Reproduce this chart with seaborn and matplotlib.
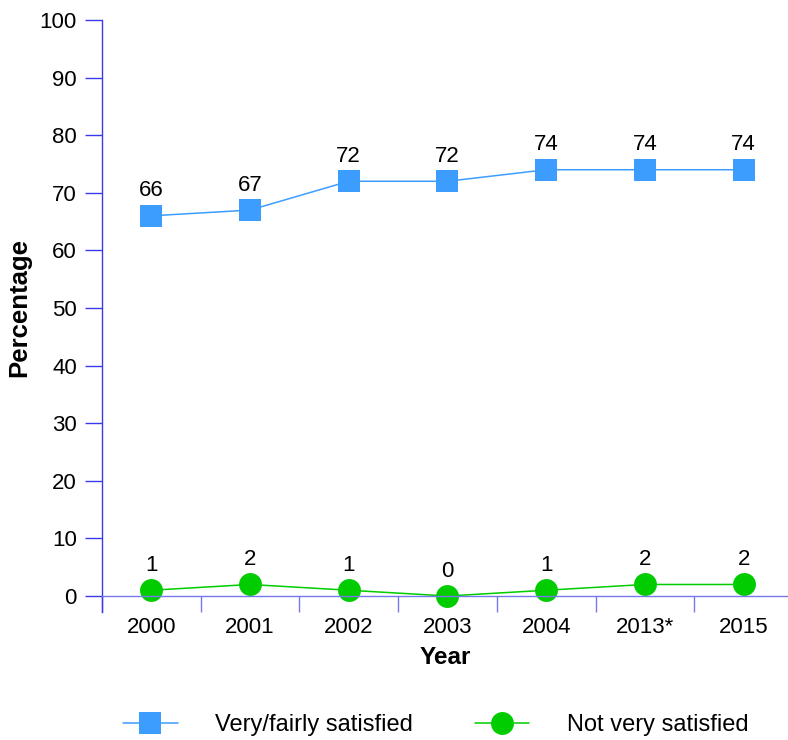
import matplotlib
matplotlib.use('Agg')
import matplotlib.pyplot as plt
import pandas as pd
import seaborn as sns
from matplotlib.lines import Line2D

years = ['2000', '2001', '2002', '2003', '2004', '2013*', '2015']
satisfied = [66, 67, 72, 72, 74, 74, 74]
not_satisfied = [1, 2, 1, 0, 1, 2, 2]

sns.set_style('white')
plt.rcParams['font.family'] = ['Liberation Sans', 'DejaVu Sans']
plt.rcParams['text.color'] = 'black'
plt.rcParams['axes.labelcolor'] = 'black'
plt.rcParams['xtick.color'] = 'black'
plt.rcParams['ytick.color'] = 'black'

blue = '#3d9dff'
green = '#00cc00'
axis_col = '#3a3ae6'
xaxis_col = '#7777ee'

df = pd.DataFrame({'pos': list(range(len(years))) * 2,
                   'value': satisfied + not_satisfied,
                   'series': ['Very/fairly satisfied'] * len(years) + ['Not very satisfied'] * len(years)})

fig = plt.figure(figsize=(7.88, 7.40), dpi=100)
ax = fig.add_axes([0.1294, 0.1946, 0.8706, 0.7784])

sns.lineplot(data=df, x='pos', y='value', hue='series', style='series',
             palette={'Very/fairly satisfied': blue, 'Not very satisfied': green},
             markers={'Very/fairly satisfied': 's', 'Not very satisfied': 'o'},
             dashes=False, linewidth=1.1, markersize=16.5, markeredgewidth=0,
             legend=False, ax=ax, clip_on=False)

# value labels above the markers
for i, v in enumerate(satisfied):
    ax.annotate(str(v), (i, v), xytext=(0, 14), textcoords='offset points',
                ha='center', va='baseline', fontsize=16)
for i, v in enumerate(not_satisfied):
    ax.annotate(str(v), (i, v), xytext=(0, 14), textcoords='offset points',
                ha='center', va='baseline', fontsize=16)

ax.set_xlim(-0.5, 6.45)
ax.set_ylim(0, 100)
ax.set_yticks(range(0, 101, 10))
# separators between categories, labels centred on categories
ax.set_xticks([i + 0.5 for i in range(-1, 6)])
ax.set_xticklabels([])
ax.set_xticks(range(len(years)), minor=True)
ax.set_xticklabels(years, minor=True, fontsize=16)
ax.tick_params(axis='x', which='major', bottom=True, direction='out', length=11.5, width=1, color=xaxis_col)
ax.tick_params(axis='x', which='minor', bottom=True, length=0, pad=15)
ax.tick_params(axis='y', left=True, direction='out', length=12, width=1, color=axis_col, labelsize=16, pad=6)

for s in ['top', 'right']:
    ax.spines[s].set_visible(False)
ax.spines['left'].set_color(axis_col)
ax.spines['left'].set_linewidth(1)
ax.spines['bottom'].set_color(xaxis_col)
ax.spines['bottom'].set_linewidth(1)
ax.spines['left'].set_bounds(-2.8, 100)
ax.grid(False)

ax.set_xlabel('Year', fontsize=17.5, fontweight='heavy', labelpad=6)
ax.set_ylabel('Percentage', fontsize=18.5, fontweight='heavy', labelpad=6)

handles = [Line2D([], [], color=blue, marker='s', markersize=16.5, markeredgewidth=0, linewidth=1.1),
           Line2D([], [], color=green, marker='o', markersize=16.5, markeredgewidth=0, linewidth=1.1)]
fig.legend(handles, ['Very/fairly satisfied', 'Not very satisfied'], loc='center',
           bbox_to_anchor=(0.553, 0.02), ncol=2, frameon=False, fontsize=17,
           handlelength=2.3, columnspacing=2.6, handletextpad=1.6)

fig.savefig('out.png', dpi=100)
